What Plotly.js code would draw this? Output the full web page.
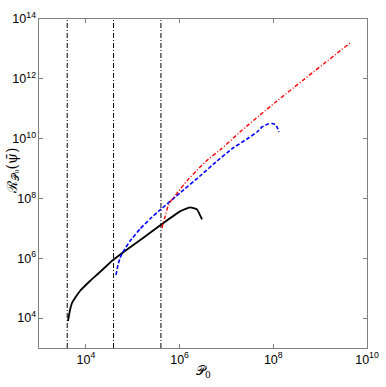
<!DOCTYPE html>
<html>
<head>
<meta charset="utf-8">
<script src="https://cdn.plot.ly/plotly-3.0.1.min.js"></script>
<style>
  html, body { margin: 0; padding: 0; background: #fff; }
  #chart { width: 386px; height: 387px; }
</style>
</head>
<body>
<div id="chart"></div>
<script>
// values (log-log axes)
var blackX = [4157, 4588, 5063, 5866, 7499, 12260, 20040, 37960, 68450, 165800, 421700, 1.021e6, 1.669e6, 2.355e6, 3.01e6];
var blackY = [7993, 18640, 31960, 46960, 80500, 173900, 347500, 875500, 1.751e6, 4.763e6, 1.399e7, 3.694e7, 5.025e7, 4.309e7, 1.995e7];

var blueX = [43990, 48530, 53550, 62030, 87500, 143000, 233800, 382300, 1.021e6, 2.729e6, 6.293e6, 1.381e7, 2.748e7, 4.492e7, 5.743e7, 7.714e7, 9.388e7, 1.088e8, 1.2e8, 1.324e8];
var blueY = [275900, 596000, 1.021e6, 1.621e6, 3.78e6, 9.522e6, 2.056e7, 4.111e7, 1.522e8, 5.634e8, 1.788e9, 4.864e9, 9.722e9, 1.667e10, 2.449e10, 3.086e10, 3.207e10, 2.969e10, 2.449e10, 1.667e10];

var redX = [421700, 443000, 488700, 566200, 689000, 925600, 1.44e6, 2.355e6, 4.1e6, 7.293e6, 1.948e7, 5.205e7, 1.2e8, 4.337e9];
var redY = [1.028e7, 1.399e7, 2.399e7, 5.428e7, 9.307e7, 1.644e8, 3.9e8, 8.8e8, 2.05e9, 4.171e9, 1.667e10, 6.17e10, 1.813e11, 1.576e13];

var markerX = [4000, 39000, 400000];
var yLimits = [1e3, 1e14];

var traces = markerX.map(v => ({
    x: [v, v],
    y: yLimits,
    type: 'scatter',
    mode: 'lines',
    line: { color: '#000', width: 1, dash: '5px,2px,1px,2px' },
    hoverinfo: 'skip'
}));

traces.push({
    x: blackX, y: blackY, type: 'scatter', mode: 'lines',
    line: { color: '#000', width: 1.8, shape: 'spline', smoothing: 0.3 }
});
traces.push({
    x: blueX, y: blueY, type: 'scatter', mode: 'lines',
    line: { color: '#0000ff', width: 1.6, dash: '4px,2px', shape: 'spline', smoothing: 0.3 }
});
traces.push({
    x: redX, y: redY, type: 'scatter', mode: 'lines',
    line: { color: '#ff0000', width: 1.4, dash: '4px,2px,1px,2px', shape: 'spline', smoothing: 0.7 }
});

var axisCommon = {
    type: 'log',
    dtick: 2,
    tick0: 0,
    exponentformat: 'power',
    showgrid: false,
    zeroline: false,
    showline: true,
    linecolor: '#808080',
    linewidth: 1,
    mirror: 'ticks',
    ticks: 'inside',
    ticklen: 4,
    tickcolor: '#808080',
    tickfont: { family: 'Liberation Sans, Arial, sans-serif', size: 10, color: '#000' }
};

var layout = {
    width: 386,
    height: 387,
    margin: { l: 39, r: 19, t: 19, b: 39 },
    showlegend: false,
    paper_bgcolor: '#fff',
    plot_bgcolor: '#fff',
    xaxis: Object.assign({}, axisCommon, { range: [3, 10] }),
    yaxis: Object.assign({}, axisCommon, { range: [3, 14] }),
    annotations: [
        {
            text: '𝒫<sub>0</sub>', xref: 'paper', yref: 'paper', x: 0.5, y: 0,
            xanchor: 'center', yanchor: 'top', yshift: -13, showarrow: false,
            font: { family: 'DejaVu Serif, serif', size: 13, color: '#000' }
        },
        {
            text: 'ℛ<sub>𝒫₀</sub>(ψ̄)', xref: 'paper', yref: 'paper', x: 0, y: 0.5,
            xanchor: 'center', yanchor: 'middle', xshift: -27, yshift: 13, textangle: -90,
            showarrow: false, font: { family: 'DejaVu Serif, serif', size: 14, color: '#000' }
        }
    ]
};

Plotly.newPlot('chart', traces, layout, { displayModeBar: false, staticPlot: true });
</script>
</body>
</html>
